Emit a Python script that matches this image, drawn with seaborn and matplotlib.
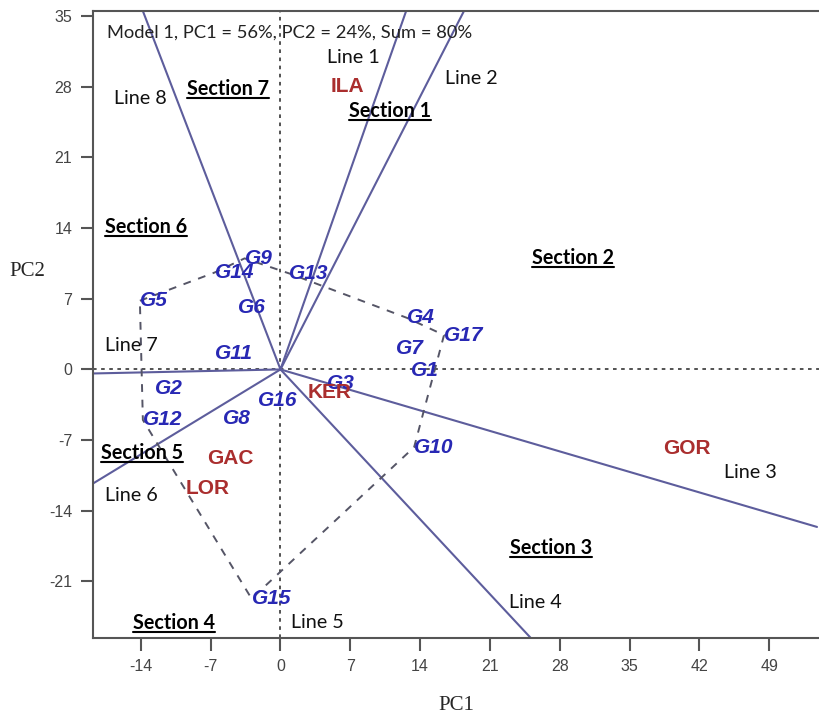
import pandas as pd
import matplotlib.pyplot as plt
import seaborn as sns

# genotype scores (PC1, PC2)
genotypes = ["G1", "G2", "G3", "G4", "G5", "G6", "G7", "G8", "G9", "G10",
             "G11", "G12", "G13", "G14", "G15", "G16", "G17"]
g_pc1 = [13.1, -12.6, 4.7, 12.7, -14.1, -4.3, 11.6, -5.8, -3.6, 13.4,
         -6.6, -13.8, 0.9, -6.6, -2.9, -2.3, 16.4]
g_pc2 = [-0.1, -1.9, -1.4, 5.1, 6.8, 6.1, 2.1, -4.9, 11.0, -7.7,
         1.6, -5.0, 9.5, 9.6, -22.7, -3.1, 3.4]

# environment scores
environments = ["ILA", "KER", "GAC", "LOR", "GOR"]
e_pc1 = [6.7, 4.9, -5.0, -7.3, 40.8]
e_pc2 = [28.0, -2.3, -8.8, -11.8, -7.8]

# polygon vertices (genotypes)
hull = ["G5", "G14", "G9", "G13", "G4", "G17", "G10", "G15", "G12", "G5"]

# rays from origin, end points
ray_names = ["Line 1", "Line 2", "Line 3", "Line 4", "Line 6", "Line 7", "Line 8"]
ray_x = [12.6, 18.4, 53.8, 25.1, -18.8, -18.8, -13.8]
ray_y = [35.5, 35.5, -15.6, -26.6, -11.3, -0.4, 35.5]

# line label positions
line_labels = ["Line 1", "Line 2", "Line 3", "Line 4", "Line 5", "Line 6", "Line 7", "Line 8"]
line_lx = [7.3, 19.1, 47.1, 25.6, 3.7, -15.0, -15.0, -14.0]
line_ly = [30.9, 28.8, -10.2, -23.1, -25.1, -12.5, 2.4, 26.8]

# section label positions
sections = ["Section 1", "Section 2", "Section 3", "Section 4",
            "Section 5", "Section 6", "Section 7"]
sec_x = [11.0, 29.3, 27.1, -10.7, -13.9, -13.5, -5.3]
sec_y = [25.6, 11.0, -17.7, -25.1, -8.3, 14.1, 27.8]

x_ticks = [-14, -7, 0, 7, 14, 21, 28, 35, 42, 49]
y_ticks = [-21, -14, -7, 0, 7, 14, 21, 28, 35]

sns.set_style("ticks")
plt.rcParams['font.family'] = ['Liberation Sans', 'DejaVu Sans']
plt.rcParams['axes.unicode_minus'] = False

fig = plt.figure(figsize=(8.19, 7.18), dpi=100)
ax = fig.add_axes([93 / 819, 80 / 718, 726 / 819, 627 / 718])

# dotted axes through origin
ax.axhline(0, color="#444444", lw=1.3, ls=(0, (2, 2.5)), zorder=1)
ax.axvline(0, color="#444444", lw=1.3, ls=(0, (2, 2.5)), zorder=1)

# rays
rays = []
for name, x, y in zip(ray_names, ray_x, ray_y):
    rays.append({"line": name, "x": 0.0, "y": 0.0})
    rays.append({"line": name, "x": x, "y": y})
rays = pd.DataFrame(rays)
sns.lineplot(data=rays, x="x", y="y", units="line", estimator=None, sort=False,
             color="#5d5d9c", lw=1.5, ax=ax, zorder=2)

# polygon
gdf = pd.DataFrame({"g": genotypes, "x": g_pc1, "y": g_pc2}).set_index("g")
poly = gdf.loc[hull].reset_index()
sns.lineplot(data=poly, x="x", y="y", sort=False, estimator=None,
             color="#555566", lw=1.4, ls=(0, (4, 4)), ax=ax, zorder=2)

# genotype labels
for g, x, y in zip(genotypes, g_pc1, g_pc2):
    ax.text(x, y, g, color="#2828b4", fontsize=15, fontstyle="italic",
            fontweight="bold", ha="left", va="center", zorder=3)

# environment labels
for e, x, y in zip(environments, e_pc1, e_pc2):
    ax.text(x, y, e, color="#aa2e2e", fontsize=15, fontweight="bold",
            ha="center", va="center", zorder=3)

calibri = ["Lato", "DejaVu Sans"]
for t, x, y in zip(line_labels, line_lx, line_ly):
    ax.text(x, y, t, fontsize=14.2, family=calibri, color="#111111",
            ha="center", va="center", zorder=3)

sec_texts = []
for t, x, y in zip(sections, sec_x, sec_y):
    sec_texts.append(ax.text(x, y, t, fontsize=14.2, family=calibri,
                             fontweight="bold", color="black",
                             ha="center", va="center", zorder=3))

ax.text(0.019, 0.965, "Model 1, PC1 = 56%, PC2 = 24%, Sum = 80%",
        transform=ax.transAxes, fontsize=13.2, family=calibri,
        color="#222222", ha="left", va="center")

ax.set_xlim(-18.8, 54)
ax.set_ylim(-26.6, 35.5)
ax.set_xticks(x_ticks)
ax.set_yticks(y_ticks)
ax.tick_params(length=9, width=1.5, color="#555555", labelcolor="#444444",
               labelsize=11.5, direction="out", pad=6)
for s in ["left", "bottom", "top"]:
    ax.spines[s].set_color("#555555")
    ax.spines[s].set_linewidth(1.5)
ax.spines["right"].set_visible(False)

ax.set_xlabel("PC1", family=["Liberation Serif"], fontsize=15, labelpad=16)
ax.set_ylabel("PC2", family=["Liberation Serif"], fontsize=15, rotation=0)
ax.yaxis.set_label_coords(-0.09, 0.57)

# underline the section labels to match the text width
fig.canvas.draw()
renderer = fig.canvas.get_renderer()
inv = ax.transData.inverted()
for txt in sec_texts:
    bb = txt.get_window_extent(renderer)
    (x0, y0), (x1, _) = inv.transform([(bb.x0, bb.y0 + 1), (bb.x1, bb.y0 + 1)])
    ax.plot([x0, x1], [y0, y0], color="black", lw=1.5, zorder=3)

fig.savefig("out.png", dpi=100)
